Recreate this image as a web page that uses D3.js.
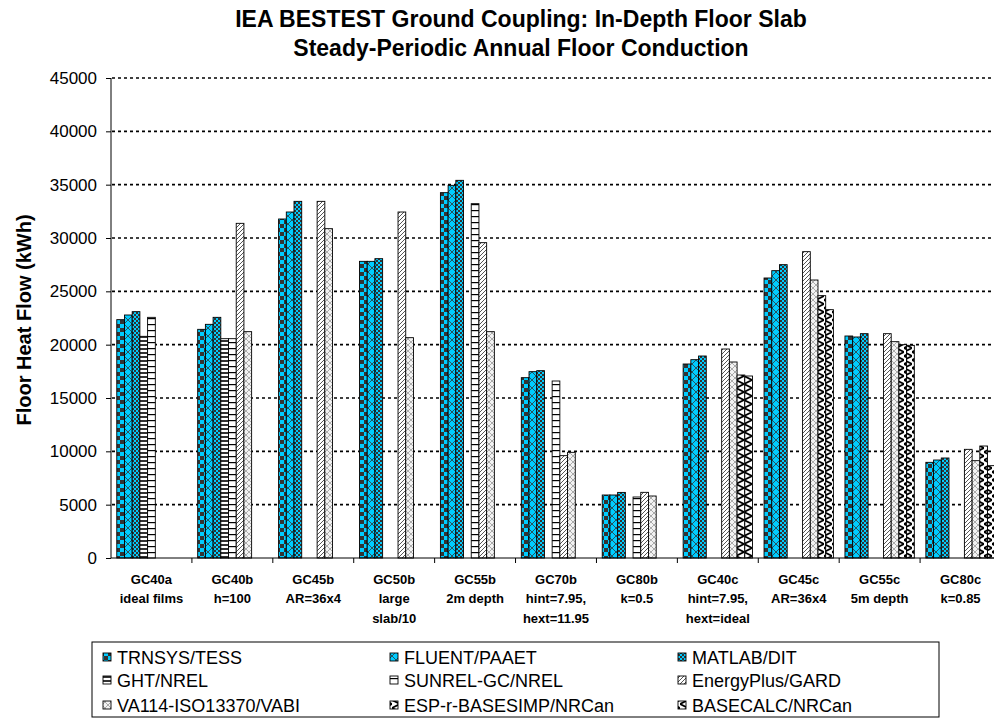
<!DOCTYPE html>
<html><head><meta charset="utf-8">
<script src="https://cdn.jsdelivr.net/npm/d3@7"></script>
<style>body{margin:0;background:#fff}svg{display:block}text{font-family:Arial,"Liberation Sans",sans-serif}</style>
</head><body><svg id="c" width="994" height="719"></svg>
<script>
const categories = ["GC40a","GC40b","GC45b","GC50b","GC55b","GC70b","GC80b","GC40c","GC45c","GC55c","GC80c"];
const catLine2 = ["ideal films","h=100","AR=36x4","large","2m depth","hint=7.95,","k=0.5","hint=7.95,","AR=36x4","5m depth","k=0.85"];
const catLine3 = ["","","","slab/10","","hext=11.95","","hext=ideal","","",""];
const seriesNames = ["TRNSYS/TESS","FLUENT/PAAET","MATLAB/DIT","GHT/NREL","SUNREL-GC/NREL","EnergyPlus/GARD","VA114-ISO13370/VABI","ESP-r-BASESIMP/NRCan","BASECALC/NRCan"];
const trnsys   = [22344,21437,31781,27812,34250,16906,5906,18187,26250,20812,8969];
const fluent   = [22781,21906,32437,27812,34937,17469,5906,18594,26937,20719,9187];
const matlab   = [23094,22562,33437,28062,35406,17562,6150,18937,27500,21031,9375];
const ght      = [20781,20562,null,null,null,null,null,null,null,null,null];
const sunrel   = [22562,20562,null,null,33219,16594,5719,null,null,null,null];
const energyplus = [null,31375,33437,32437,29562,9594,6156,19594,28719,21031,10187];
const va114    = [null,21219,30875,20656,21219,9906,5812,18375,26062,20281,9125];
const espr     = [null,null,null,null,null,null,null,17156,24594,20000,10500];
const basecalc = [null,null,null,null,null,null,null,17062,23281,19937,8656];
const yTicks = [0,5000,10000,15000,20000,25000,30000,35000,40000,45000];
const seriesValues = [trnsys,fluent,matlab,ght,sunrel,energyplus,va114,espr,basecalc];

const svg = d3.select("#c");
const defs = svg.append("defs");
const CY = "#00ccff", DK = "#333333";
function pat(id, w, h, draw){
  const p = defs.append("pattern").attr("id",id).attr("patternUnits","userSpaceOnUse").attr("width",w).attr("height",h);
  draw(p);
}
pat("p0",8,8,p=>{p.append("rect").attr("width",8).attr("height",8).attr("fill",CY);
  p.append("rect").attr("width",4).attr("height",4).attr("fill",DK);
  p.append("rect").attr("x",4).attr("y",4).attr("width",4).attr("height",4).attr("fill",DK);});
pat("p1",8,8,p=>{p.append("rect").attr("width",8).attr("height",8).attr("fill",CY);
  p.append("path").attr("d","M0,0L8,8M8,0L0,8").attr("stroke",DK).attr("stroke-width",0.8).attr("fill","none");});
pat("p2",4,4,p=>{p.append("rect").attr("width",4).attr("height",4).attr("fill",CY);
  p.append("rect").attr("width",2).attr("height",2).attr("fill",DK);
  p.append("rect").attr("x",2).attr("y",2).attr("width",2).attr("height",2).attr("fill",DK);});
pat("p3",4,4,p=>{p.append("rect").attr("width",4).attr("height",4).attr("fill","#fff");
  p.append("rect").attr("y",0).attr("width",4).attr("height",2).attr("fill",DK);});
pat("p4",6,6,p=>{p.append("rect").attr("width",6).attr("height",6).attr("fill","#fff");
  p.append("rect").attr("y",0).attr("width",6).attr("height",1.2).attr("fill","#000");});
pat("p5",4,4,p=>{p.append("rect").attr("width",4).attr("height",4).attr("fill","#fff");
  p.append("path").attr("d","M-1,1L1,-1M0,4L4,0M3,5L5,3").attr("stroke","#555").attr("stroke-width",1);});
pat("p6",6,6,p=>{p.append("rect").attr("width",6).attr("height",6).attr("fill","#f2f2f2");
  p.append("path").attr("d","M0,3L3,0L6,3L3,6Z").attr("stroke","#999").attr("stroke-width",0.8).attr("fill","none");});
pat("p7",8,8,p=>{p.append("rect").attr("width",8).attr("height",8).attr("fill","#fff");
  p.append("path").attr("d","M8,0L0,4L8,8").attr("stroke","#000").attr("stroke-width",1.8).attr("fill","none");});
pat("p8",8,8,p=>{p.append("rect").attr("width",8).attr("height",8).attr("fill","#fff");
  p.append("path").attr("d","M0,0L8,4L0,8").attr("stroke","#000").attr("stroke-width",1.8).attr("fill","none");});

const x0 = d3.scaleBand().domain(categories).range([111,1001]).paddingInner(0).paddingOuter(0);
const x1 = d3.scaleBand().domain(d3.range(9)).range([0,x0.bandwidth()]).paddingInner(0).paddingOuter(0.75);
const y = d3.scaleLinear().domain([0,45000]).range([558,78]);

svg.append("g").selectAll("line").data(yTicks.filter(d=>d>0)).join("line")
  .attr("x1",112).attr("x2",994).attr("y1",d=>y(d)).attr("y2",d=>y(d))
  .attr("stroke","#000").attr("stroke-width",1.6).attr("stroke-dasharray","3,3");

const g = svg.append("g");
seriesValues.forEach((vals,si)=>{
  g.append("g").selectAll("rect").data(categories.map((c,i)=>({c,v:vals[i]})).filter(d=>d.v!=null)).join("rect")
    .attr("x",d=>x0(d.c)+x1(si)).attr("width",x1.bandwidth())
    .attr("y",d=>y(d.v)).attr("height",d=>y(0)-y(d.v))
    .attr("fill",`url(#p${si})`).attr("stroke","#000").attr("stroke-width",0.9);
});

const ya = svg.append("g").attr("transform","translate(111,0)")
  .call(d3.axisLeft(y).tickValues(yTicks).tickSize(5).tickPadding(9).tickFormat(d3.format("d")));
ya.select(".domain").attr("stroke","#000").attr("d","M0,78V558");
ya.selectAll("text").attr("font-size",17).attr("fill","#000").attr("font-family","Arial, Liberation Sans, sans-serif");
svg.append("line").attr("x1",111).attr("x2",1001).attr("y1",558).attr("y2",558).attr("stroke","#000");
svg.append("g").selectAll("line").data(categories.slice(1)).join("line")
  .attr("x1",d=>x0(d)).attr("x2",d=>x0(d)).attr("y1",558).attr("y2",563).attr("stroke","#000");

const cl = svg.append("g").attr("font-size",13).attr("font-weight","bold").attr("text-anchor","middle");
categories.forEach((c,i)=>{
  const cx = x0(c)+x0.bandwidth()/2;
  [c,catLine2[i],catLine3[i]].forEach((t,j)=>{ if(t) cl.append("text").attr("x",cx).attr("y",584+j*19.3).text(t); });
});

svg.append("text").attr("x",521).attr("y",27).attr("text-anchor","middle").attr("font-size",23).attr("font-weight","bold").text("IEA BESTEST Ground Coupling: In-Depth Floor Slab");
svg.append("text").attr("x",521).attr("y",56).attr("text-anchor","middle").attr("font-size",23).attr("font-weight","bold").text("Steady-Periodic Annual Floor Conduction");
svg.append("text").attr("transform","translate(31,320) rotate(-90)").attr("text-anchor","middle").attr("font-size",20).attr("font-weight","bold").text("Floor Heat Flow (kWh)");

svg.append("rect").attr("x",92).attr("y",642).attr("width",847).attr("height",75).attr("fill","#fff").attr("stroke","#000").attr("stroke-width",1);
const colX = [103,390,678], rowY = [657,680,705];
seriesNames.forEach((n,i)=>{
  const cx = colX[i%3], cy = rowY[Math.floor(i/3)];
  svg.append("rect").attr("x",cx).attr("y",cy-4).attr("width",8).attr("height",8).attr("fill",`url(#p${i})`).attr("stroke","#000").attr("stroke-width",0.9);
  svg.append("text").attr("x",cx+14).attr("y",cy+6.5).attr("font-size",18).text(n);
});
</script></body></html>
